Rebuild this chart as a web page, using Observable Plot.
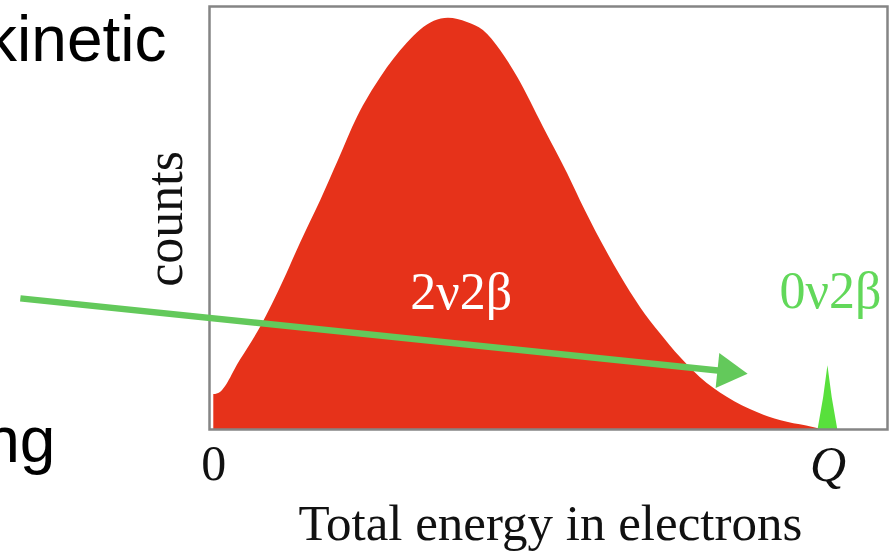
<!DOCTYPE html>
<html>
<head>
<meta charset="utf-8">
<script src="https://cdn.jsdelivr.net/npm/d3@7"></script>
<script src="https://cdn.jsdelivr.net/npm/@observablehq/plot@0.6"></script>
<style>
html, body { margin: 0; padding: 0; background: #fff; overflow: hidden; }
</style>
</head>
<body>
<div id="chart"></div>
<script>
// 2ν2β continuous spectrum (energy as fraction of Q, counts normalised)
const energy2nu = [0, 0.003, 0.008, 0.043, 0.076, 0.114, 0.141, 0.174, 0.203, 0.234, 0.272, 0.315, 0.359, 0.382, 0.413, 0.439, 0.467, 0.495, 0.537, 0.576, 0.597, 0.630, 0.662, 0.695, 0.727, 0.760, 0.792, 0.836, 0.885, 0.934, 0.976, 0.99];
const counts2nu = [0.083, 0.083, 0.085, 0.163, 0.241, 0.352, 0.440, 0.541, 0.636, 0.738, 0.832, 0.913, 0.965, 0.972, 0.962, 0.943, 0.896, 0.832, 0.714, 0.605, 0.541, 0.447, 0.364, 0.288, 0.227, 0.170, 0.123, 0.076, 0.040, 0.017, 0.005, 0];

// 0ν2β peak at Q
const energy0nu = [0.984, 0.993, 1.0, 1.007, 1.016];
const counts0nu = [0, 0.075, 0.151, 0.075, 0];

// axis ticks
const tickValues = [0, 1];
const tickLabels = ["0", "Q"];

// labels
const seriesNames = ["2ν2β", "0ν2β"];
const seriesLabelX = [0.403, 1.004];
const seriesLabelY = [0.286, 0.288];
const xAxisTitle = "Total energy in electrons";
const yAxisTitle = "counts";

// slide fragments around the picture
const slideWords = ["kinetic", "ng"];
const slideWordX = [-0.077, -0.258];
const slideWordY = [0.870, -0.078];

// annotation arrow (data coordinates)
const arrowFrom = {x: -0.315, y: 0.310};
const arrowTo = {x: 0.8365, y: 0.137};

const spectrum = energy2nu.map((e, i) => ({e, c: counts2nu[i]}));
const peak = energy0nu.map((e, i) => ({e, c: counts0nu[i]}));
const ticks = tickValues.map((v, i) => ({v, label: tickLabels[i]}));
const names = seriesNames.map((n, i) => ({n, x: seriesLabelX[i], y: seriesLabelY[i]}));
const words = slideWords.map((w, i) => ({w, x: slideWordX[i], y: slideWordY[i]}));

const red = "#e6321a";
const arrowGreen = "#63c95b";
const peakGreen = "#58e03c";
const textGreen = "#62d85a";
const serif = "'Liberation Serif', 'Times New Roman', serif";
const sans = "'Liberation Sans', Arial, Helvetica, sans-serif";

const chart = Plot.plot({
  width: 890,
  height: 551,
  marginLeft: 209,
  marginRight: 3,
  marginTop: 6,
  marginBottom: 122,
  x: {domain: [-0.007, 1.097], axis: null},
  y: {domain: [0, 1], axis: null},
  style: {background: "#fff", overflow: "visible"},
  marks: [
    Plot.areaY(spectrum, {x: "e", y: "c", fill: red, curve: "monotone-x"}),
    Plot.areaY(peak, {x: "e", y: "c", fill: peakGreen, curve: "linear"}),
    Plot.text(names.slice(0, 1), {x: "x", y: "y", text: "n", fill: "#fff", fontSize: 52, fontFamily: serif, lineAnchor: "bottom", textAnchor: "middle"}),
    Plot.text(names.slice(1), {x: "x", y: "y", text: "n", fill: textGreen, fontSize: 52, fontFamily: serif, lineAnchor: "bottom", textAnchor: "middle"}),
    Plot.frame({stroke: "#858585", strokeWidth: 2.5}),
    Plot.link([arrowFrom], {x1: "x", y1: "y", x2: arrowTo.x, y2: arrowTo.y, stroke: arrowGreen, strokeWidth: 6.5}),
    Plot.dot([arrowTo], {x: "x", y: "y", symbol: "triangle", r: 13, rotate: 96, fill: arrowGreen, stroke: null}),
    Plot.text(ticks.slice(0, 1), {x: "v", y: -0.12, text: "label", fill: "#111", fontSize: 50, fontFamily: serif, lineAnchor: "bottom", textAnchor: "middle"}),
    Plot.text(ticks.slice(1), {x: "v", y: -0.122, text: "label", fill: "#111", fontSize: 50, fontFamily: serif, fontStyle: "italic", lineAnchor: "bottom", textAnchor: "middle"}),
    Plot.text([xAxisTitle], {x: 0.548, y: -0.262, text: d => d, fill: "#111", fontSize: 51, fontFamily: serif, lineAnchor: "bottom", textAnchor: "middle"}),
    Plot.text([yAxisTitle], {x: -0.051, y: 0.498, text: d => d, fill: "#111", fontSize: 52, fontFamily: serif, lineAnchor: "bottom", textAnchor: "middle", rotate: -90}),
    Plot.text(words, {x: "x", y: "y", text: "w", fill: "#000", fontSize: 64, fontFamily: sans, lineAnchor: "bottom", textAnchor: "end"})
  ]
});
document.getElementById("chart").appendChild(chart);
</script>
</body>
</html>
